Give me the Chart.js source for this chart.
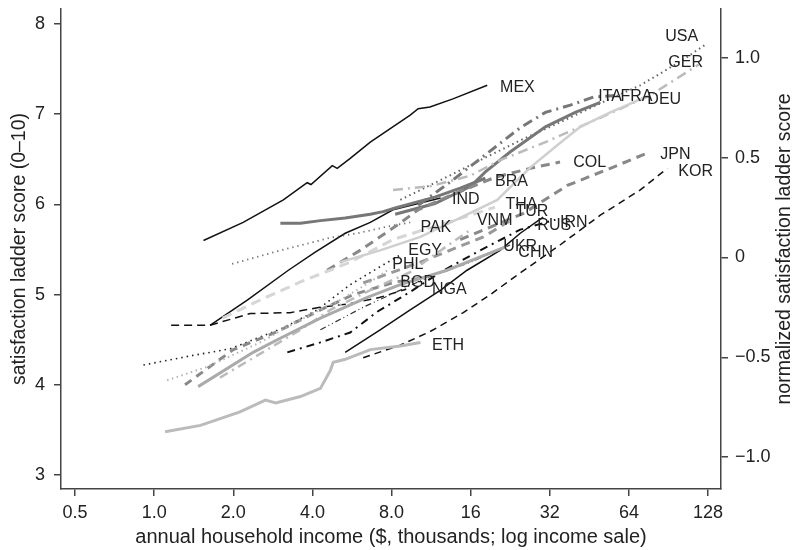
<!doctype html>
<html>
<head>
<title>Satisfaction ladder vs income</title>
<script src="https://cdn.jsdelivr.net/npm/chart.js@4.4.0/dist/chart.umd.min.js"></script>
<style>
body { margin: 0; background: #fff; }
</style>
</head>
<body>
<canvas id="mycanvas" width="792" height="550"></canvas>
<script>
// axis ticks
var xTicks = [0.5, 1, 2, 4, 8, 16, 32, 64, 128];
var xTickLabels = ['0.5', '1.0', '2.0', '4.0', '8.0', '16', '32', '64', '128'];
var yTicks = [3, 4, 5, 6, 7, 8];
var rightTicks = [-1, -0.5, 0, 0.5, 1];
var rightTickLabels = ['\u22121.0', '\u22120.5', '0', '0.5', '1.0'];

// country curves: [income ($ thousands), ladder score]
var MEX = [[1.54,5.60],[2.18,5.80],[3.1,6.05],[3.82,6.24],[3.95,6.22],[4.76,6.43],[4.97,6.40],[5.57,6.51],[6.64,6.69],[9.42,6.99],[10.1,7.06],[11.2,7.08],[13.7,7.17],[18.5,7.32]];
var USA = [[8.64,6.05],[12.3,6.27],[17.4,6.49],[24.7,6.71],[35,6.91],[49.8,7.12],[70.7,7.32],[100,7.58],[125,7.77]];
var GER = [[8.1,6.16],[11.2,6.20],[16,6.32],[20.7,6.49],[30.8,6.69],[49.8,6.96],[77.2,7.21],[118,7.55]];
var ITA = [[8.26,5.89],[11.7,6.01],[16,6.20],[18.2,6.36],[22.6,6.58],[30.8,6.86],[40,7.02],[49.8,7.13]];
var FRA = [[10.1,5.99],[13.4,6.25],[18.2,6.55],[24.7,6.85],[30.8,7.02],[38.3,7.10],[46.9,7.19],[59.4,7.21]];
var DEU = [[5.1,5.36],[7.24,5.49],[10.3,5.64],[14.6,5.85],[20.2,6.05],[27,6.41],[35,6.68],[41.8,6.86],[54.4,7.02],[73.9,7.19]];
var JPN = [[14.6,5.61],[25.4,5.90],[37.3,6.21],[54.4,6.40],[75.2,6.57]];
var KOR = [[6.24,4.30],[8.64,4.44],[11.2,4.59],[15.0,4.80],[19.0,5.00],[24.7,5.24],[35,5.55],[49.8,5.88],[70.7,6.16],[89.6,6.40]];
var COL = [[4.55,5.27],[6.07,5.49],[8.41,5.77],[10.1,5.94],[13.4,6.10],[19.8,6.30],[27,6.40],[35,6.47]];
var BRA = [[3.02,5.79],[3.6,5.79],[4.29,5.82],[5.33,5.85],[6.64,5.89],[7.44,5.92],[8.26,5.96],[11.7,6.08],[14.6,6.18],[18.2,6.29]];
var IND = [[1.63,4.66],[2.26,4.94],[3.24,5.27],[4.1,5.47],[5.33,5.68],[6.64,5.80],[8.1,5.94],[12.3,6.07]];
var THA = [[1.82,4.74],[2.53,4.94],[3.6,5.14],[5.57,5.36],[8.1,5.61],[11.2,5.74],[16,5.88],[19.8,5.97]];
var TUR = [[6.24,5.13],[10.3,5.36],[17.9,5.64],[22.6,5.82]];
var VNM = [[1.78,4.08],[2.69,4.39],[3.6,4.61],[4.68,4.83],[6.64,5.05],[9.42,5.25],[12.3,5.49],[16,5.72]];
var RUS = [[5.33,4.36],[7.24,4.61],[9.42,4.83],[12.3,5.05],[15.5,5.27],[20.7,5.49],[24.7,5.68],[30.2,5.86]];
var IRN = [[3.21,4.36],[4.29,4.47],[5.57,4.58],[7.06,4.81],[9.42,5.03],[12.3,5.25],[17.4,5.49],[24.7,5.72],[33.6,5.83]];
var PAK = [[1.98,5.34],[3.02,5.49],[4.68,5.63],[5.93,5.68],[7.9,5.76],[9.42,5.80]];
var EGY = [[0.91,4.22],[1.37,4.32],[1.95,4.40],[3.1,4.63],[4.17,4.83],[5.57,5.11],[7.24,5.31],[8.64,5.44]];
var UKR = [[1.47,3.98],[2.38,4.36],[2.94,4.50],[4.29,4.74],[6.47,4.97],[8.64,5.11],[13.0,5.27],[21.7,5.53]];
var CHN = [[4.29,4.61],[6.24,4.86],[8.64,5.05],[11.2,5.20],[16,5.36],[22.6,5.55]];
var PHL = [[1.12,4.05],[1.59,4.20],[2.53,4.47],[3.6,4.72],[5.1,4.94],[6.64,5.14],[7.9,5.29]];
var BGD = [[1.16,4.66],[1.63,4.66],[2.32,4.79],[3.29,4.80],[4.29,4.86],[5.57,4.90],[7.24,4.97],[9.1,5.06]];
var NGA = [[1.31,4.0],[2.0,4.39],[2.94,4.59],[4.29,4.83],[5.72,5.0],[8.26,5.14],[10.3,5.18]];
var ETH = [[1.10,3.48],[1.5,3.55],[2.12,3.70],[2.65,3.83],[2.9,3.80],[3.6,3.87],[4.29,3.96],[4.68,4.16],[4.8,4.25],[5.3,4.28],[6.64,4.39],[8.64,4.43],[10.3,4.47]];

// where each country code is written (income, score)
var labelAt = {
  MEX: [20.7, 7.30], USA: [88, 7.86], GER: [90.4, 7.57], ITA: [48.9, 7.19],
  FRA: [59.4, 7.19], DEU: [75.2, 7.16], JPN: [84.3, 6.55], KOR: [98.7, 6.36],
  COL: [39.3, 6.46], BRA: [19.8, 6.25], IND: [13.6, 6.05], THA: [21.7, 6.0],
  TUR: [23.7, 5.92], VNM: [16.9, 5.82], RUS: [28.7, 5.77], IRN: [35, 5.80],
  PAK: [10.3, 5.74], EGY: [9.26, 5.49], UKR: [21.3, 5.53], CHN: [24.3, 5.47],
  PHL: [8.05, 5.33], BGD: [8.64, 5.13], NGA: [11.4, 5.05], ETH: [11.4, 4.44]
};

var FONT = '"Liberation Sans", Arial, Helvetica, sans-serif';
var DOT = [1.5, 3.5], DASH = [9, 6], DASHDOT = [10, 5, 2, 5];

var series = [
  { name: 'ETH', data: ETH, color: '#bbbbbb', width: 3,   dash: [] },
  { name: 'UKR', data: UKR, color: '#aaaaaa', width: 3,   dash: [] },
  { name: 'DEU', data: DEU, color: '#cfcfcf', width: 2.5, dash: [] },
  { name: 'THA', data: THA, color: '#d6d6d6', width: 3,   dash: [10, 6] },
  { name: 'GER', data: GER, color: '#bbbbbb', width: 2.5, dash: DASHDOT },
  { name: 'VNM', data: VNM, color: '#bbbbbb', width: 2.5, dash: [9, 5, 2, 5] },
  { name: 'PHL', data: PHL, color: '#b5b5b5', width: 2,   dash: DOT },
  { name: 'NGA', data: NGA, color: '#8a8a8a', width: 3,   dash: [8, 6] },
  { name: 'TUR', data: TUR, color: '#999999', width: 3,   dash: DASH },
  { name: 'JPN', data: JPN, color: '#888888', width: 3,   dash: DASH },
  { name: 'COL', data: COL, color: '#888888', width: 3,   dash: DASH },
  { name: 'ITA', data: ITA, color: '#777777', width: 3,   dash: [] },
  { name: 'BRA', data: BRA, color: '#777777', width: 3,   dash: [] },
  { name: 'FRA', data: FRA, color: '#777777', width: 3,   dash: DASHDOT },
  { name: 'USA', data: USA, color: '#666666', width: 2,   dash: DOT },
  { name: 'PAK', data: PAK, color: '#666666', width: 1.8, dash: [1.2, 4] },
  { name: 'EGY', data: EGY, color: '#222222', width: 1.6, dash: [1.5, 4] },
  { name: 'CHN', data: CHN, color: '#333333', width: 1.2, dash: [6, 3, 1, 3, 1, 3] },
  { name: 'IRN', data: IRN, color: '#111111', width: 2,   dash: [8, 5, 2, 5] },
  { name: 'BGD', data: BGD, color: '#111111', width: 1.5, dash: [8, 5] },
  { name: 'KOR', data: KOR, color: '#111111', width: 1.5, dash: [7, 5] },
  { name: 'RUS', data: RUS, color: '#111111', width: 1.5, dash: [] },
  { name: 'IND', data: IND, color: '#111111', width: 1.5, dash: [] },
  { name: 'MEX', data: MEX, color: '#111111', width: 1.5, dash: [] }
];

var datasets = series.map(function (s) {
  return {
    label: s.name,
    data: s.data.map(function (p) { return { x: p[0], y: p[1] }; }),
    borderColor: s.color,
    borderWidth: s.width,
    borderDash: s.dash,
    pointRadius: 0,
    fill: false,
    tension: 0,
    yAxisID: 'y'
  };
});

// country codes + right-hand title (reads bottom to top)
var annotations = {
  id: 'annotations',
  afterDatasetsDraw: function (chart) {
    var ctx = chart.ctx, xs = chart.scales.x, ys = chart.scales.y;
    ctx.save();
    ctx.font = '16px ' + FONT;
    ctx.fillStyle = '#222';
    ctx.textAlign = 'left';
    ctx.textBaseline = 'middle';
    Object.keys(labelAt).forEach(function (k) {
      var p = labelAt[k];
      ctx.fillText(k, xs.getPixelForValue(p[0]), ys.getPixelForValue(p[1]));
    });
    ctx.restore();

    var yr = chart.scales.y2;
    ctx.save();
    ctx.font = '19.5px ' + FONT;
    ctx.fillStyle = '#222';
    ctx.textAlign = 'center';
    ctx.textBaseline = 'middle';
    ctx.translate(785, (yr.top + yr.bottom) / 2);
    ctx.rotate(-Math.PI / 2);
    ctx.fillText('normalized satisfaction ladder score', 0, 0);
    ctx.restore();
  }
};

Chart.defaults.font.family = FONT;
Chart.defaults.color = '#222';

var axisGrid = { display: true, drawOnChartArea: false, drawTicks: true, tickLength: 7, tickColor: '#444', lineWidth: 1.5 };
var axisBorder = { display: true, color: '#444', width: 1.5 };

// fixed box sizes, no extra label padding
function fixBox(w, h) {
  return function (s) {
    if (w) s.width = w;
    if (h) s.height = h;
    s.paddingTop = 0; s.paddingBottom = 0; s.paddingLeft = 0; s.paddingRight = 0;
  };
}

new Chart(document.getElementById('mycanvas'), {
  type: 'line',
  data: { datasets: datasets },
  plugins: [annotations],
  options: {
    responsive: false,
    animation: false,
    layout: { padding: { top: 9, left: 0, right: 0, bottom: 0 } },
    plugins: { legend: { display: false }, tooltip: { enabled: false } },
    scales: {
      x: {
        type: 'logarithmic',
        min: 0.442, max: 143.4,
        grid: axisGrid, border: axisBorder,
        afterBuildTicks: function (s) { s.ticks = xTicks.map(function (v) { return { value: v }; }); },
        afterFit: fixBox(0, 61),
        ticks: {
          autoSkip: false, maxRotation: 0, padding: 8,
          font: { size: 18, lineHeight: 1 },
          callback: function (v, i) { return xTickLabels[i]; }
        },
        title: {
          display: true,
          text: 'annual household income ($, thousands; log income sale)',
          font: { size: 20 },
          padding: { top: 0, bottom: 1 }
        }
      },
      y: {
        type: 'linear', position: 'left',
        min: 2.845, max: 8.166,
        grid: axisGrid, border: axisBorder,
        afterBuildTicks: function (s) { s.ticks = yTicks.map(function (v) { return { value: v }; }); },
        afterFit: fixBox(61, 0),
        ticks: { padding: 9, font: { size: 18, lineHeight: 1 } },
        title: {
          display: true,
          text: 'satisfaction ladder score (0\u201310)',
          font: { size: 19.5 },
          padding: { top: 8, bottom: 0 }
        }
      },
      y2: {
        type: 'linear', position: 'right', display: true,
        min: -1.16, max: 1.245,
        grid: axisGrid, border: axisBorder,
        afterBuildTicks: function (s) { s.ticks = rightTicks.map(function (v) { return { value: v }; }); },
        afterFit: fixBox(71, 0),
        ticks: {
          padding: 7, font: { size: 18, lineHeight: 1 },
          callback: function (v, i) { return rightTickLabels[i]; }
        }
      }
    }
  }
});
</script>
</body>
</html>
